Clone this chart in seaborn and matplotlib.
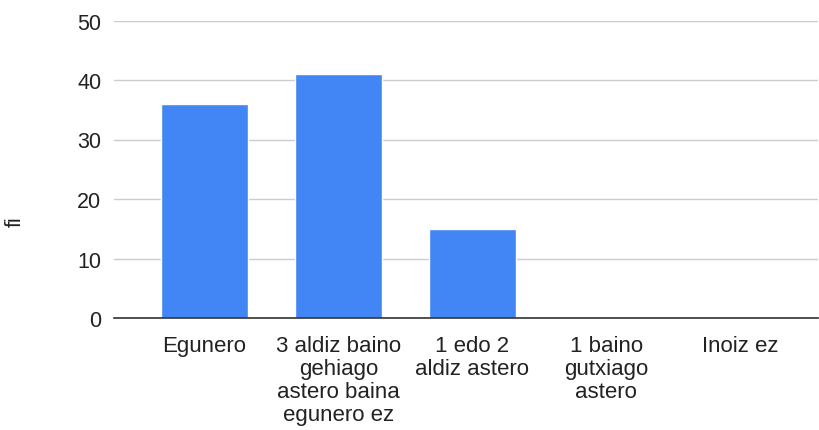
import matplotlib
matplotlib.use("Agg")
import matplotlib.pyplot as plt
import seaborn as sns
import pandas as pd

categories = [
    "Egunero",
    "3 aldiz baino\ngehiago\nastero baina\negunero ez",
    "1 edo 2\naldiz astero",
    "1 baino\ngutxiago\nastero",
    "Inoiz ez",
]
fi_values = [36, 41, 15, 0, 0]
y_ticks = [0, 10, 20, 30, 40, 50]

df = pd.DataFrame({"category": categories, "fi": fi_values})

sns.set_theme(style="white")
plt.rcParams["font.family"] = ["Liberation Sans", "DejaVu Sans"]

W, H = 819, 431
fig = plt.figure(figsize=(W / 100, H / 100), dpi=100)
ax = fig.add_axes([114 / W, 1 - 319 / H, (818 - 114) / W, (319 - 21.5) / H])

sns.barplot(data=df, x="category", y="fi", color="#4285F4", saturation=1,
            width=0.654, ax=ax, zorder=3)

ax.set_ylim(0, 50)
ax.set_xlim(-0.675, 4.58)
ax.set_yticks(y_ticks)
ax.yaxis.grid(True, color="#cccccc", linewidth=1, zorder=0)
ax.set_axisbelow(True)
for side in ["top", "right", "left"]:
    ax.spines[side].set_visible(False)
ax.spines["bottom"].set_color("#333333")
ax.spines["bottom"].set_linewidth(1.2)
ax.spines["bottom"].set_zorder(4)

ax.tick_params(axis="y", length=0, pad=9, labelsize=15.5, labelcolor="#222222")
ax.tick_params(axis="x", length=0, pad=12, labelsize=16, labelcolor="#222222")
for lbl in ax.get_xticklabels():
    lbl.set_linespacing(1.13)

ax.set_xlabel("")
ax.set_ylabel("fi", fontsize=15.5, color="#222222")
ax.yaxis.set_label_coords(-0.125, 0.326)

fig.savefig("out.png", dpi=100, facecolor="white")
